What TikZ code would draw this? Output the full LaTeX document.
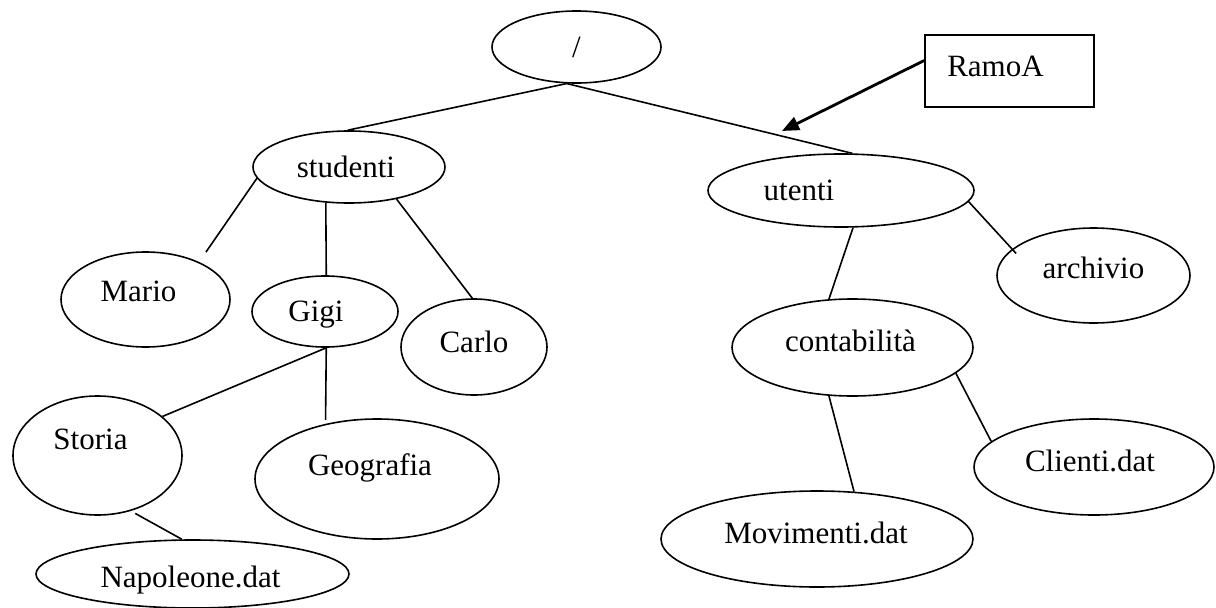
\documentclass[tikz,border=0pt]{standalone}
\usepackage{fontspec}
\setmainfont{Liberation Serif}
\usetikzlibrary{shapes.geometric,arrows.meta}

\begin{document}
\begin{tikzpicture}[x=1pt,y=-1pt,line width=1.6pt,font=\fontsize{31}{37}\selectfont]
\tikzstyle{dir}=[draw=black,ellipse,inner sep=0pt]
\tikzstyle{tag}=[draw=black,rectangle,inner sep=0pt]
\useasboundingbox (0,0) rectangle (1216,608);
% directory tree
\node[dir,minimum width=169,minimum height=72] (root) at (576.5,47) {/};
\node[dir,minimum width=192,minimum height=72,label={[xshift=-3]center:studenti}] (stud) at (349,167) {};
\node[dir,minimum width=266,minimum height=73,label={[xshift=-42]center:utenti}] (ut) at (841,190.5) {};
\node[dir,minimum width=169,minimum height=95,label={[xshift=-7,yshift=8]center:Mario}] (mario) at (145.5,299.5) {};
\node[dir,minimum width=146,minimum height=71,label={[xshift=-9,yshift=-3]center:Gigi}] (gigi) at (325,311.5) {};
\node[dir,minimum width=146,minimum height=96,label={[yshift=5]center:Carlo}] (carlo) at (474,347) {};
\node[dir,minimum width=169,minimum height=119,label={[xshift=-7,yshift=16]center:Storia}] (storia) at (97.5,455.5) {};
\node[dir,minimum width=244,minimum height=120,label={[xshift=-7,yshift=11]center:Geografia}] (geo) at (377,479) {};
\node[dir,minimum width=313,minimum height=68,label={[xshift=-2,yshift=-6]center:Napoleone.dat}] (napo) at (192.5,574) {};
\node[dir,minimum width=193,minimum height=95,label={[yshift=8]center:archivio}] (arch) at (1093.5,275.5) {};
\node[dir,minimum width=241,minimum height=97,label={[xshift=-2,yshift=7]center:contabilità}] (cont) at (852.5,347.5) {};
\node[dir,minimum width=312,minimum height=96,label={[xshift=-1,yshift=6]center:Movimenti.dat}] (mov) at (817,539) {};
\node[dir,minimum width=240,minimum height=96,label={[xshift=-4,yshift=6]center:Clienti.dat}] (cli) at (1094,467) {};
% note box
\node[tag,minimum width=169,minimum height=72,label={[xshift=-14,yshift=5]center:RamoA}] (ramo) at (1009.5,71) {};
\coordinate (tipA) at (782,131);

\path (root.255) edge (stud.92)
      (root.255) edge (ut.73)
      (stud.187) edge[shorten >=12pt] (mario.35)
      (stud.237) edge (gigi.88)
      (stud.326) edge (carlo.92)
      (gigi.272) edge (storia.31)
      (gigi.272) edge[shorten >=4pt] (geo.133)
      (storia.301) edge[shorten <=5pt] (napo.107)
      (ut.288) edge (cont.116)
      (ut.355) edge[shorten >=-6pt] (arch.162)
      (cont.244) edge (mov.52)
      (cont.346) edge (cli.166);
\path[-{Triangle[length=17pt,width=14pt]},line width=2.8pt] (ramo.173) edge (tipA);
\end{tikzpicture}
\end{document}
